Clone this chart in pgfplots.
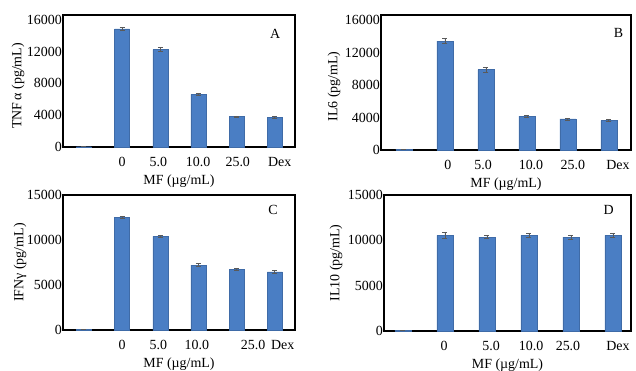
\documentclass[border=0pt]{standalone}
\usepackage{pgfplots}
\pgfplotsset{compat=1.18}
\usepackage{fontspec}
\setmainfont{Liberation Serif}
\definecolor{barblue}{RGB}{74,126,196}
\definecolor{errgray}{RGB}{90,90,90}
\pgfplotsset{
  panel/.style={
    scale only axis,
    anchor=south west,
    ybar,
    ymin=0,
    axis line style={line width=2.6pt, black},
    major tick length=0pt,
    xtick pos=bottom, ytick pos=left,
    /pgf/number format/assume math mode=true,
    /pgf/number format/set thousands separator={},
    scaled y ticks=false,
    tick label style={font=\fontsize{14}{16}\selectfont},
    label style={font=\fontsize{14}{16}\selectfont},
    yticklabel style={anchor=east, inner xsep=1pt},
    xticklabel style={anchor=north, yshift=-7bp},
    xlabel={MF (µg/mL)},
    xlabel style={at={(axis description cs:0.5,0)}, anchor=center, yshift=-34bp},
    ylabel style={at={(axis description cs:0,0.5)}, anchor=center},
    xticklabels={0,5.0,10.0,25.0,Dex},
    clip=false,
  },
  barsty/.style={fill=barblue, draw=barblue!85!black, line width=0.3pt,
    error bars/.cd, y dir=both, y explicit,
    error bar style={draw=errgray, line width=0.8pt},
    error mark options={rotate=90, mark size=2.5bp, line width=0.8pt, draw=errgray}},
}
\begin{document}
\begin{tikzpicture}
\useasboundingbox (0bp,0bp) rectangle (636bp,371bp);
% Panel A
\begin{axis}[panel, at={(63bp,224bp)}, width=232bp, height=132bp,
  xmin=-0.55, xmax=5.53, ymax=16600, bar width=15bp,
  ytick={0,4000,8000,12000,16000},
  xtick={1,1.95,2.99,4.03,5.13},
  ylabel={TNF\,α (pg/mL)}, ylabel style={yshift=45bp, xshift=-5bp}]
\addplot[barsty] coordinates {(0,40) +- (0,0) (1,14840) +- (0,150) (2,12260) +- (0,250) (3,6620) +- (0,150) (4,3830) +- (0,80) (5,3740) +- (0,100)};
\node[font=\fontsize{14}{16}\selectfont] at (axis description cs:0.914,0.86) {A};
\end{axis}
% Panel B
\begin{axis}[panel, at={(381bp,221bp)}, width=250bp, height=135bp,
  xmin=-0.56, xmax=5.54, ymax=16630, bar width=16bp,
  ytick={0,4000,8000,12000,16000},
  xtick={1.07,1.93,3.1,4.12,5.22},
  ylabel={IL6 (pg/mL)}, ylabel style={yshift=47bp, xshift=-4bp}]
\addplot[barsty] coordinates {(0,100) +- (0,0) (1,13400) +- (0,300) (2,9900) +- (0,300) (3,4160) +- (0,150) (4,3820) +- (0,120) (5,3620) +- (0,120)};
\node[font=\fontsize{14}{16}\selectfont] at (axis description cs:0.95,0.87) {B};
\end{axis}
% Panel C
\begin{axis}[panel, at={(63bp,41bp)}, width=232bp, height=135bp,
  xmin=-0.55, xmax=5.53, ymax=15000, bar width=15bp,
  ytick={0,5000,10000,15000},
  xtick={1,1.95,2.96,4.43,5.21},
  ylabel={IFNγ (pg/mL)}, ylabel style={yshift=43bp}]
\addplot[barsty] coordinates {(0,60) +- (0,0) (1,12550) +- (0,120) (2,10400) +- (0,80) (3,7200) +- (0,150) (4,6750) +- (0,120) (5,6450) +- (0,200)};
\node[font=\fontsize{14}{16}\selectfont] at (axis description cs:0.905,0.89) {C};
\end{axis}
% Panel D
\begin{axis}[panel, at={(384bp,40bp)}, width=247bp, height=136bp,
  xmin=-0.45, xmax=5.43, ymax=15000, bar width=16bp,
  ytick={0,5000,10000,15000},
  xtick={0.98,2.1,3.05,3.93,5.12},
  ylabel={IL10 (pg/mL)}, ylabel style={yshift=48bp}]
\addplot[barsty] coordinates {(0,60) +- (0,0) (1,10550) +- (0,350) (2,10350) +- (0,150) (3,10550) +- (0,200) (4,10350) +- (0,200) (5,10550) +- (0,200)};
\node[font=\fontsize{14}{16}\selectfont] at (axis description cs:0.91,0.89) {D};
\end{axis}
\end{tikzpicture}
\end{document}
